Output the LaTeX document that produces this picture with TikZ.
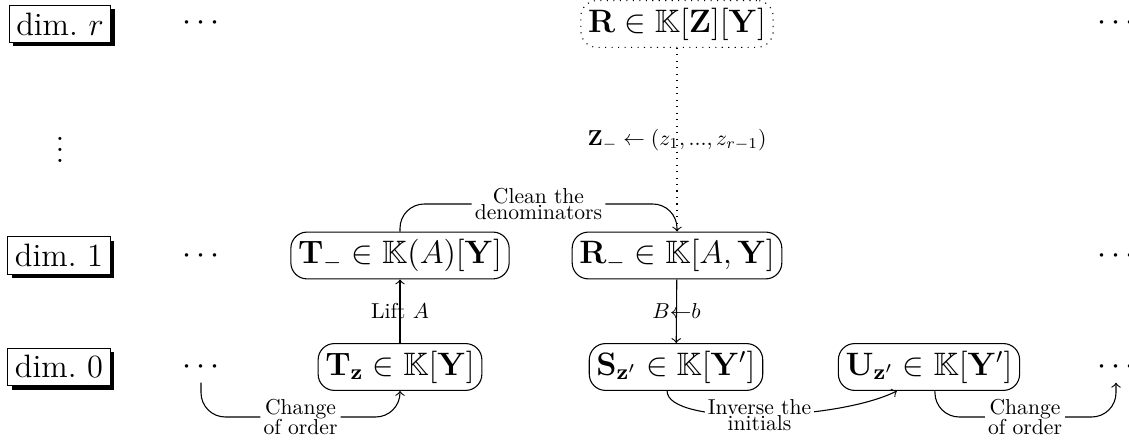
\documentclass[tikz,border=0pt]{standalone}
\usepackage{amssymb}
\usepackage{graphicx}
\usetikzlibrary{shadows}
\newcommand{\lbl}[1]{\scalebox{0.8}{#1}}
\newcommand{\tstack}[2]{\scalebox{0.8}{\vbox{\baselineskip=-1000pt\lineskip=0.6pt\lineskiplimit=0pt\halign{\hfil##\hfil\cr#1\cr#2\cr}}}}
\begin{document}
\begin{tikzpicture}[x=0.37037pt, y=-0.37037pt, font=\normalsize,
  dimbox/.style={draw, fill=white, inner sep=2.67pt, font=\large,
    general shadow={fill=black, shadow xshift=1.4pt, shadow yshift=-1.4pt}},
  obj/.style={draw, rounded corners=6pt, inner sep=2.67pt, font=\large},
  objdot/.style={obj, dotted},
  dotsnode/.style={inner sep=2.67pt, font=\large, anchor=base},
  lab/.style={fill=white, inner sep=1pt},
  plain/.style={inner sep=2.67pt},
  roundpath/.style={rounded corners=9pt},
]
\useasboundingbox (0,0) rectangle (1129,442);

% dimension tags
\node[dimbox] (dr) at (60,24) {dim.~$r$};
\node[dimbox] (d1) at (59,255.5) {dim.~1};
\node[dimbox] (d0) at (59,367) {dim.~0};
\node[font=\large, inner sep=0pt] (vd) at (60,142) {$\vdots$};

% dots
\node[dotsnode] (lr) at (201,31) {$\cdots$};
\node[dotsnode] (l1) at (201,263.5) {$\cdots$};
\node[dotsnode] (l0) at (201,375) {$\cdots$};
\node[dotsnode] (rr) at (1116,31) {$\cdots$};
\node[dotsnode] (r1) at (1116,263.5) {$\cdots$};
\node[dotsnode] (r0) at (1116,375) {$\cdots$};

% objects
\node[objdot] (R) at (677,24) {$\mathbf{R}\in\mathbb{K}[\mathbf{Z}][\mathbf{Y}]$};
\node[obj] (Tm) at (400,255.5) {$\mathbf{T}_-\in\mathbb{K}(A)[\mathbf{Y}]$};
\node[obj] (Rm) at (677,255.5) {$\mathbf{R}_-\in\mathbb{K}[A,\mathbf{Y}]$};
\node[obj] (Tz) at (400,367) {$\mathbf{T}_{\mathbf{z}}\in\mathbb{K}[\mathbf{Y}]$};
\node[obj] (Sz) at (676,367) {$\mathbf{S}_{\mathbf{z}'}\in\mathbb{K}[\mathbf{Y}']$};
\node[obj] (Uz) at (929,367) {$\mathbf{U}_{\mathbf{z}'}\in\mathbb{K}[\mathbf{Y}']$};

% straight connectors
\draw[dotted] (R) -- node[plain] {\lbl{$\mathbf{Z}_-\leftarrow(z_1,...,z_{r-1})$}} (Rm);
\draw[->] (Tz) -- node[plain] {\lbl{Lift~$A$}} (Tm);
\draw[->] (Rm) -- node[plain] {\lbl{$B{\leftarrow}b$}} (Sz);

% clean the denominators
\node[lab] (cl) at (538.5,204) {\tstack{Clean the}{denominators}};
\draw[roundpath] (Tm.north) |- (cl.west);
\draw[->, roundpath] (cl.east) -| (Rm.north);

% change of order (left)
\node[lab] (co1) at (300.5,417) {\tstack{Change}{of order}};
\draw[roundpath] (l0.south) |- (co1.west);
\draw[->, roundpath] (co1.east) -| (Tz.south);

% inverse the initials
\draw[->] ([xshift=-3.3pt]Sz.south) .. controls +(0,35) and +(-60,30) ..
  node[lab, pos=0.5] (inv) {\tstack{Inverse the}{initials}} ([xshift=-11.9pt]Uz.south);

% change of order (right)
\node[lab] (co2) at (1025,417) {\tstack{Change}{of order}};
\draw[roundpath] ([xshift=2.2pt]Uz.south) |- (co2.west);
\draw[->, roundpath] (co2.east) -| (r0.south);
\end{tikzpicture}
\end{document}
